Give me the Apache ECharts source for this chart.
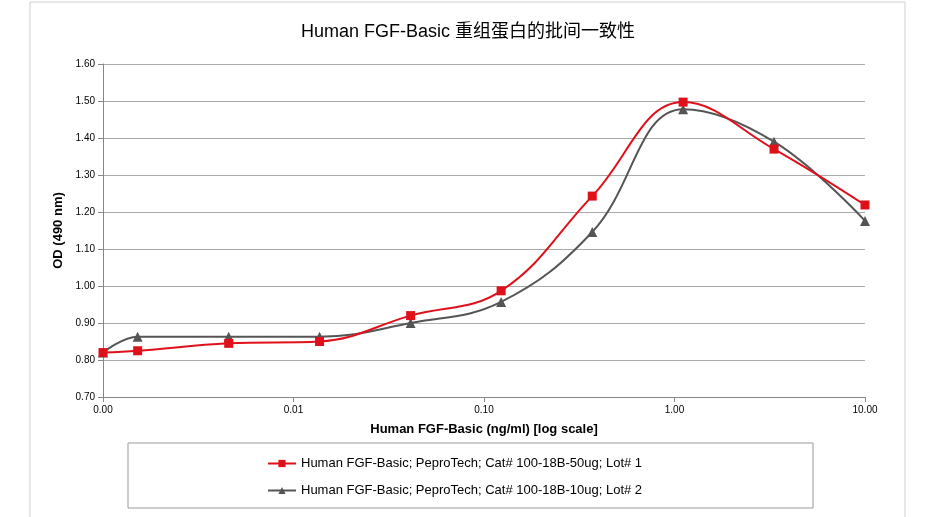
<!DOCTYPE html>
<html><head><meta charset="utf-8">
<script src="https://cdn.jsdelivr.net/npm/echarts@6/dist/echarts.min.js"></script>
<style>html,body{margin:0;padding:0;background:#fff}#c{width:936px;height:517px}</style>
</head><body><div id="c"></div>
<script>
const doses = [0.001, 0.00152, 0.00457, 0.0137, 0.0412, 0.123, 0.37, 1.11, 3.33, 10];
const lot1 = [0.82, 0.825, 0.845, 0.85, 0.92, 0.987, 1.243, 1.497, 1.37, 1.219];
const lot2 = [0.82, 0.863, 0.863, 0.863, 0.90, 0.957, 1.146, 1.478, 1.39, 1.176];
const names = ['Human FGF-Basic; PeproTech; Cat# 100-18B-50ug; Lot# 1','Human FGF-Basic; PeproTech; Cat# 100-18B-10ug; Lot# 2'];
const F = 'Liberation Sans, Arial, sans-serif';
const chart = echarts.init(document.getElementById('c'));
chart.setOption({
  animation:false,
  textStyle:{fontFamily:F},
  title:{text:'Human FGF-Basic 重组蛋白的批间一致性',left:'center',top:18,
    textStyle:{fontSize:18,fontWeight:'normal',color:'#000',fontFamily:'Liberation Sans, Noto Sans CJK SC, sans-serif'}},
  graphic:[
    {type:'rect',shape:{x:30,y:2,width:875,height:530},style:{fill:'none',stroke:'#d0d0d0',lineWidth:1}},
    {type:'rect',shape:{x:128,y:443,width:685,height:65},style:{fill:'#fff',stroke:'#999',lineWidth:1}}
  ],
  grid:{left:103,right:71,top:64,bottom:120},
  legend:{orient:'vertical',left:262,top:452,itemGap:14,itemWidth:28,itemHeight:9,
    textStyle:{fontSize:13,color:'#000'},data:names},
  xAxis:{type:'log',logBase:10,min:0.001,max:10,
    name:'Human FGF-Basic (ng/ml) [log scale]',nameLocation:'middle',nameGap:26,
    nameTextStyle:{fontWeight:'bold',fontSize:13,color:'#000'},
    axisLine:{lineStyle:{color:'#888'}},axisTick:{show:true,lineStyle:{color:'#888'}},
    axisLabel:{fontSize:10,color:'#000',formatter:v=>v.toFixed(2)},
    splitLine:{show:false},minorTick:{show:false}},
  yAxis:{type:'value',min:0.7,max:1.6,interval:0.1,
    name:'OD (490 nm)',nameLocation:'middle',nameGap:34,
    nameTextStyle:{fontWeight:'bold',fontSize:13,color:'#000'},
    axisLine:{show:true,lineStyle:{color:'#888'}},axisTick:{show:true,lineStyle:{color:'#888'}},
    axisLabel:{fontSize:10,color:'#000',formatter:v=>v.toFixed(2)},
    splitLine:{lineStyle:{color:'#aaa'}}},
  series:[
    {name:names[0],type:'line',smooth:0.4,data:doses.map((d,i)=>[d,lot1[i]]),
     symbol:'rect',symbolSize:9,lineStyle:{color:'#e0101a',width:2},itemStyle:{color:'#e0101a'},z:3},
    {name:names[1],type:'line',smooth:0.4,data:doses.map((d,i)=>[d,lot2[i]]),
     symbol:'triangle',symbolSize:10,lineStyle:{color:'#555',width:2},itemStyle:{color:'#555'},z:2}
  ]
});
</script></body></html>
